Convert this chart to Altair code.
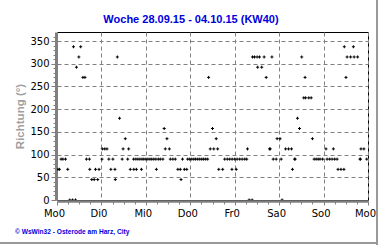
import altair as alt
import pandas as pd

# hours since Monday 00:00 and wind direction (degrees)
hours = [
    0.5, 1.3, 2.2, 3.2, 4.6, 5.8, 6.9, 8.4, 8.9, 10.0, 10.5, 11.8, 12.8, 14.0, 15.1, 15.9, 17.5, 17.7, 18.8, 20.1, 20.8, 22.0, 22.7,
    24.3, 24.5, 25.8, 27.0, 28.0, 29.1, 30.2, 31.3, 31.5, 32.6, 33.8, 35.2, 35.7, 36.9, 38.2, 38.7, 39.6, 41.4, 41.5, 42.6, 42.9, 43.7, 44.8, 45.6, 45.9, 46.9,
    48.0, 49.1, 50.2, 51.2, 52.3, 53.4, 53.7, 54.7, 55.8, 57.2, 57.9, 58.5, 59.4, 60.7, 61.2, 62.6, 63.9, 65.3, 66.6, 67.0, 67.8, 68.8, 70.1, 70.6, 71.7,
    72.8, 73.9, 74.9, 76.0, 77.1, 78.2, 79.2, 80.3, 81.4, 81.9, 82.8, 84.0, 84.7, 86.0, 86.8, 87.4, 89.5, 90.6, 92.0, 93.3, 94.5, 94.6, 96.0,
    96.8, 97.3, 98.7, 100.0, 101.4, 102.5, 102.9, 103.8, 105.4, 105.6, 106.7, 108.1, 108.4, 109.4, 110.6, 111.9, 113.0, 114.8, 115.2, 116.1, 116.8, 118.4, 118.9,
    120.5, 121.1, 121.6, 123.5, 125.1, 126.7, 127.2, 128.4, 128.6, 129.9, 131.0, 132.2, 133.3, 134.0, 134.3, 136.0, 137.3, 138.0, 138.9, 140.0, 141.1, 142.1, 143.5,
    145.3, 145.9, 147.3, 148.6, 149.3, 150.0, 151.3, 151.8, 153.4, 155.0, 155.2, 156.1, 156.7, 158.6, 160.1, 160.5, 162.4, 163.7, 163.9, 164.2, 165.8, 167.3,
]
direction = [
    67.5, 67.5, 90, 90, 90, 67.5, 0, 0, 337.5, 0, 292.5, 315, 337.5, 270, 270, 90, 90, 67.5, 45, 45, 67.5, 45, 67.5,
    90, 112.5, 112.5, 112.5, 90, 67.5, 90, 67.5, 45, 315, 180, 90, 112.5, 135, 90, 112.5, 67.5, 90, 67.5, 90, 67.5, 90, 90, 67.5, 90, 90,
    90, 90, 90, 90, 90, 90, 67.5, 90, 90, 90, 157.5, 112.5, 135, 112.5, 90, 90, 90, 67.5, 67.5, 45, 90, 67.5, 67.5, 90, 90,
    90, 90, 90, 90, 90, 90, 90, 90, 90, 270, 112.5, 157.5, 112.5, 135, 112.5, 67.5, 67.5, 90, 90, 90, 67.5, 90, 90,
    67.5, 90, 90, 90, 90, 90, 112.5, 0, 0, 315, 315, 315, 292.5, 315, 292.5, 315, 270, 112.5, 112.5, 315, 90, 90, 135,
    135, 90, 0, 112.5, 112.5, 112.5, 67.5, 90, 90, 180, 157.5, 315, 225, 270, 225, 225, 225, 135, 90, 90, 90, 90, 90,
    112.5, 90, 90, 90, 112.5, 90, 90, 67.5, 67.5, 67.5, 337.5, 270, 315, 315, 337.5, 315, 315, 90, 90, 112.5, 112.5, 90,
]
day_labels = ["Mo0", "Di0", "Mi0", "Do0", "Fr0", "Sa0", "So0", "Mo0"]
title_text = "Woche 28.09.15 - 04.10.15 (KW40)"
y_title = "Richtung (°)"
footer_text = "© WsWin32  -  Osterode am Harz, City"

df = pd.DataFrame({"h": hours, "dir": direction})

W, H = 311, 168
GRID = "#808080"
BLUE = "#0000dd"
days_js = "[" + ",".join(f"'{d}'" for d in day_labels) + "]"

x_axis = alt.Axis(
    values=list(range(0, 169, 6)),
    labelExpr=f"datum.value % 24 === 0 ? {days_js}[datum.value / 24] : ''",
    labelOverlap=False,
    labelFlush=False,
    labelFont="DejaVu Sans",
    labelFontSize=10,
    labelColor="black",
    labelPadding=3,
    labelOffset=-3,
    tickSize={"condition": {"test": "datum.value % 24 === 0", "value": 4}, "value": 3},
    tickColor=GRID,
    domainColor=GRID,
    domainWidth=2.5,
    offset=1,
    grid=True,
    gridColor=GRID,
    gridDash=[4, 3],
    gridOpacity={"condition": {"test": "datum.value % 24 === 0", "value": 1}, "value": 0},
    title=None,
)
y_axis = alt.Axis(
    values=list(range(0, 361, 10)),
    labelExpr="datum.value % 50 === 0 ? datum.label : ''",
    labelOverlap=False,
    labelFont="DejaVu Sans",
    labelFontSize=10,
    labelColor="black",
    labelPadding=2,
    tickSize={"condition": {"test": "datum.value % 50 === 0", "value": 5}, "value": 3},
    tickColor=GRID,
    domainColor=GRID,
    domainWidth=3,
    offset=1,
    grid=True,
    gridColor=GRID,
    gridDash=[4, 3],
    gridOpacity={"condition": {"test": "datum.value % 50 === 0 && datum.value > 0", "value": 1}, "value": 0},
    title=y_title,
    titleFont="Liberation Sans",
    titleFontSize=11.5,
    titleFontWeight="bold",
    titleColor="#a0a0a0",
    titlePadding=4,
)

points = alt.Chart(df).mark_point(
    shape="M-1,0H1M0,-1V1",
    size=9,
    filled=False,
    stroke="black",
    strokeWidth=1,
    opacity=1,
    clip=True,
).encode(
    x=alt.X("h:Q", scale=alt.Scale(domain=[0, 168], nice=False, zero=False), axis=x_axis),
    y=alt.Y("dir:Q", scale=alt.Scale(domain=[0, 370], nice=False), axis=y_axis),
)

one = alt.Data(values=[{}])
title = alt.Chart(one).mark_text(
    align="center", baseline="alphabetic", fontSize=11, fontWeight="bold",
    color=BLUE, font="Liberation Sans",
).encode(x=alt.value(134), y=alt.value(-9.5), text=alt.value(title_text))

footer = alt.Chart(one).mark_text(
    align="left", baseline="middle", fontSize=6.6, fontWeight="bold",
    color=BLUE, font="Liberation Sans",
).encode(x=alt.value(-42), y=alt.value(200), text=alt.value(footer_text))

frame_right = alt.Chart(one).mark_rule(color="#999999", strokeWidth=2).encode(
    x=alt.value(320), y=alt.value(-32), y2=alt.value(213))
frame_bottom = alt.Chart(one).mark_rule(color="#999999", strokeWidth=2).encode(
    x=alt.value(-57), x2=alt.value(321), y=alt.value(211))

chart = alt.layer(points, title, footer, frame_right, frame_bottom).properties(
    width=W,
    height=H,
    autosize=alt.AutoSizeParams(type="none"),
    padding={"left": 57, "top": 32, "right": 12, "bottom": 45},
    background="white",
).configure_view(stroke="black", strokeWidth=1)

chart.save("out.html", embed_options={"renderer": "svg", "actions": False})
